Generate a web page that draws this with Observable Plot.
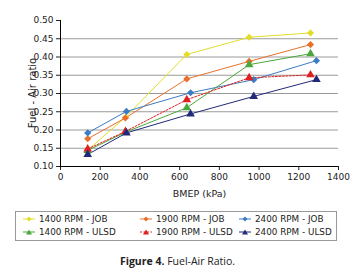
<!DOCTYPE html>
<html><head>
<meta charset="utf-8">
<script src="https://cdn.jsdelivr.net/npm/d3@7"></script>
<script src="https://cdn.jsdelivr.net/npm/@observablehq/plot@0.6"></script>
<style>
body{margin:0;background:#fff;}
#wrap{position:relative;width:355px;height:273px;font-family:"DejaVu Sans",sans-serif;color:#222;}
#ylabel{position:absolute;left:33px;top:93px;width:120px;margin-left:-60px;margin-top:-6px;height:12px;line-height:12px;text-align:center;font-size:10px;transform:rotate(-90deg);white-space:nowrap;}
#legend{position:absolute;left:15px;top:211px;width:322px;height:30px;border:1px solid #999;box-sizing:border-box;}
.item{position:absolute;font-size:8.8px;line-height:10px;white-space:nowrap;}
.item svg{position:absolute;left:0;top:0;}
.item span{position:absolute;left:17px;top:0;}
#caption{position:absolute;left:0;width:355px;top:254px;text-align:center;font-family:"Open Sans",sans-serif;font-size:10.5px;}
</style>
</head><body>
<div id="wrap"><div id="chart"></div><div id="ylabel">Fuel - Air ratio</div><div id="legend"></div><div id="caption"><b>Figure 4.</b> Fuel-Air Ratio.</div></div>
<script>
const seriesNames = ["1400 RPM - JOB","1900 RPM - JOB","2400 RPM - JOB","1400 RPM - ULSD","1900 RPM - ULSD","2400 RPM - ULSD"];
const seriesColors = ["#e3dd2a","#e8702a","#3b7dc4","#4aa83a","#e02020","#23297a"];
const bmep1400_1900 = [137, 327, 636, 950, 1259];
const bmep2400 = [137, 332, 655, 973, 1289];
const f1400Job  = [0.145, 0.235, 0.407, 0.454, 0.466];
const f1900Job  = [0.176, 0.233, 0.340, 0.388, 0.434];
const f2400Job  = [0.192, 0.251, 0.302, 0.338, 0.390];
const f1400Ulsd = [0.144, 0.194, 0.261, 0.379, 0.409];
const f1900Ulsd = [0.148, 0.196, 0.283, 0.343, 0.351];
const f2400Ulsd = [0.133, 0.192, 0.244, 0.292, 0.338];
const xTicks = [0,200,400,600,800,1000,1200,1400];
const yTicks = [0.10,0.15,0.20,0.25,0.30,0.35,0.40,0.45,0.50];
const gridVals = [0.15,0.20,0.25,0.30,0.35,0.40,0.45];

const seriesY = [f1400Job,f1900Job,f2400Job,f1400Ulsd,f1900Ulsd,f2400Ulsd];
const seriesX = [bmep1400_1900,bmep1400_1900,bmep2400,bmep1400_1900,bmep1400_1900,bmep2400];
const symbols = ["diamond2","diamond2","diamond2","triangle","triangle","triangle"];
const dashes = [null,null,null,null,"2,1.5",null];

const marks = [
  Plot.ruleY(gridVals, {stroke:"#9a9a9a", strokeWidth:1}),
  Plot.axisY({ticks:yTicks, tickFormat:d3.format(".2f"), tickSize:4, tickPadding:3, label:null}),
  Plot.axisX({ticks:xTicks, tickFormat:d=>String(d), tickSize:4, tickPadding:3, label:null}),
  Plot.ruleX([0], {stroke:"#000"}),
  Plot.ruleY([0.10], {stroke:"#000"})
];
seriesY.forEach((ys,i)=>{
  const data = ys.map((y,j)=>({x:seriesX[i][j], y}));
  marks.push(Plot.line(data, {x:"x", y:"y", stroke:seriesColors[i], strokeWidth:1, strokeDasharray:dashes[i]}));
});
seriesY.forEach((ys,i)=>{
  const data = ys.map((y,j)=>({x:seriesX[i][j], y}));
  marks.push(Plot.dot(data, {x:"x", y:"y", fill:seriesColors[i], stroke:"none", symbol:symbols[i], r:3.2}));
});
marks.push(Plot.text(["BMEP (kPa)"], {frameAnchor:"bottom", dy:30, fontSize:9.5}));

const chart = Plot.plot({
  width:355, height:205,
  marginTop:20, marginLeft:60, marginRight:17, marginBottom:39,
  style:{fontFamily:"DejaVu Sans", fontSize:"9px", color:"#222", background:"#fff"},
  x:{domain:[0,1400]},
  y:{domain:[0.10,0.50]},
  marks
});
document.getElementById("chart").appendChild(chart);

const leg = document.getElementById("legend");
const colX = [6, 123, 222];
const rowY = [2, 15];
seriesNames.forEach((name,i)=>{
  const col = i%3, row = Math.floor(i/3);
  const d = document.createElement("div");
  d.className="item";
  d.style.left = colX[col]+"px";
  d.style.top = rowY[row]+"px";
  const c = seriesColors[i];
  const marker = symbols[i]==="triangle"
    ? `<path d="M7,2.5 L10,7.5 L4,7.5 Z" fill="${c}"/>`
    : `<path d="M7,2.5 L9.5,5 L7,7.5 L4.5,5 Z" fill="${c}"/>`;
  d.innerHTML = `<svg width="15" height="10"><line x1="1" x2="13" y1="5" y2="5" stroke="${c}" stroke-width="1" ${dashes[i]?`stroke-dasharray="${dashes[i]}"`:""}/>${marker}</svg><span>${name}</span>`;
  leg.appendChild(d);
});
</script>
</body></html>
